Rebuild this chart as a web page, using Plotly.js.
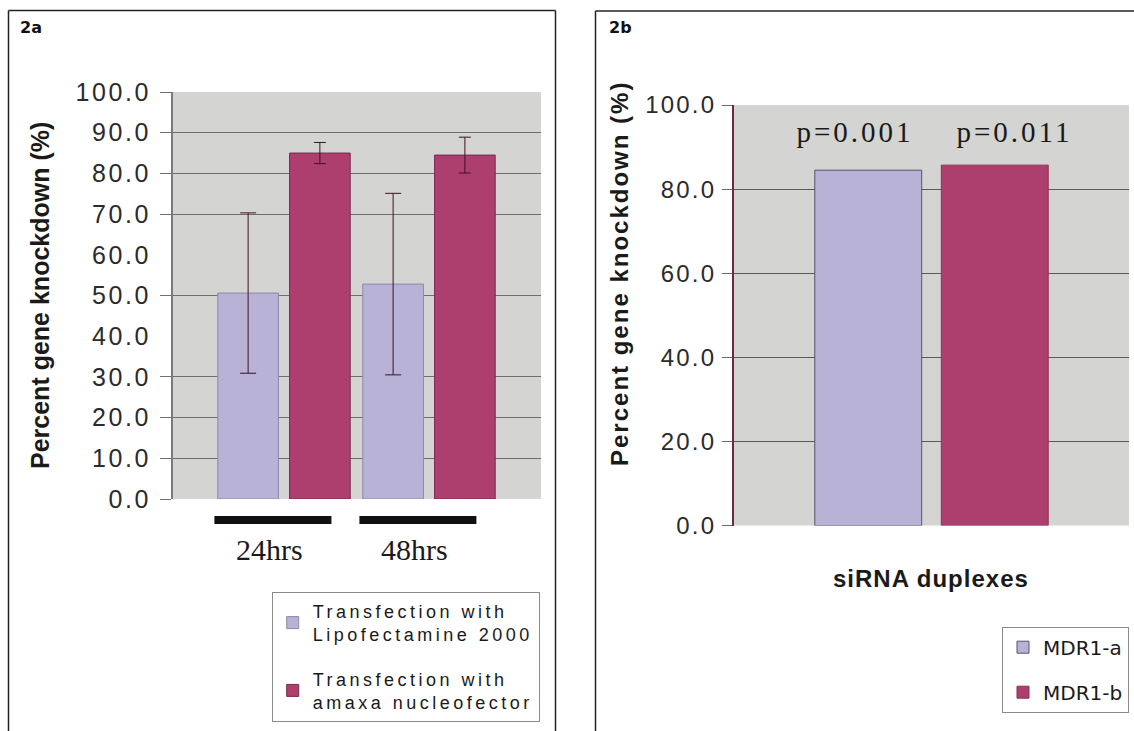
<!DOCTYPE html>
<html>
<head>
<meta charset="utf-8">
<script src="https://cdn.plot.ly/plotly-3.0.1.min.js"></script>
<style>
  html, body { margin: 0; padding: 0; background: #ffffff; }
  #chart { width: 1134px; height: 731px; }
  .y3tick text { letter-spacing: 2.6px; }
  .y2tick text { letter-spacing: 2.2px; }
  .legendtext[style*="Liberation"] { letter-spacing: 3.5px; }
  g.annotation[data-index="0"] text, g.annotation[data-index="1"] text { letter-spacing: 3px; }
  g.annotation[data-index="5"] text { letter-spacing: 2px; }
  g.annotation[data-index="6"] text { letter-spacing: 1px; }
</style>
</head>
<body>
<div id="chart"></div>
<script>
// ---------- data ----------
const timepoints = ['24hrs', '48hrs'];
const lipoKnockdown = [50.6, 52.8];
const lipoError = [19.7, 22.3];
const amaxaKnockdown = [85.0, 84.5];
const amaxaError = [2.6, 4.4];
const seriesNames2a = ['Transfection with<br>Lipofectamine 2000', 'Transfection with<br>amaxa nucleofector'];

const duplexCategory = ['siRNA duplexes'];
const mdr1aKnockdown = [84.5];
const mdr1bKnockdown = [85.7];
const seriesNames2b = ['MDR1-a', 'MDR1-b'];
const pValueLabels = ['p=0.001', 'p=0.011'];

const yTicks2a = [0, 10, 20, 30, 40, 50, 60, 70, 80, 90, 100];
const gridTicks2a = [0, 10, 20, 30, 50, 70, 80, 90, 100];
const yTicks2b = [0, 20, 40, 60, 80, 100];

const panelLabels = ['2a', '2b'];
const yTitle = 'Percent gene knockdown (%)';
const xTitle2b = 'siRNA duplexes';

// ---------- styles ----------
const W = 1134, H = 731;
const px = v => v / W;           // horizontal pixel -> paper
const py = v => 1 - v / H;       // vertical pixel -> paper
const lavender = '#b7b2d6';
const raspberry = '#ad3f6e';
const sans = 'Liberation Sans, Arial, Helvetica, sans-serif';
const serif = 'Liberation Serif, Times New Roman, serif';

const traces = [
  {
    type: 'bar', x: timepoints, y: lipoKnockdown, name: seriesNames2a[0],
    xaxis: 'x', yaxis: 'y', legend: 'legend', legendgroup: 'a1',
    marker: { color: lavender, line: { color: '#8c88aa', width: 1 } },
    error_y: { type: 'data', array: lipoError, visible: true, color: '#3d1228', thickness: 1, width: 8 }
  },
  {
    type: 'bar', x: timepoints, y: amaxaKnockdown, name: seriesNames2a[1],
    xaxis: 'x', yaxis: 'y', legend: 'legend', legendgroup: 'a2',
    marker: { color: raspberry, line: { color: '#7a2a4e', width: 1 } },
    error_y: { type: 'data', array: amaxaError, visible: true, color: '#3d1228', thickness: 1, width: 6 }
  },
  {
    type: 'bar', x: duplexCategory, y: mdr1aKnockdown, name: seriesNames2b[0],
    xaxis: 'x2', yaxis: 'y2', legend: 'legend2', legendgroup: 'b1',
    marker: { color: lavender, line: { color: '#55556a', width: 1 } }
  },
  {
    type: 'bar', x: duplexCategory, y: mdr1bKnockdown, name: seriesNames2b[1],
    xaxis: 'x2', yaxis: 'y2', legend: 'legend2', legendgroup: 'b2',
    marker: { color: raspberry, line: { color: '#8a3355', width: 1 } }
  },
  // empty helper trace so the tick-label axis of panel 2a is drawn
  {
    type: 'scatter', mode: 'markers', x: [], y: [], xaxis: 'x', yaxis: 'y3',
    showlegend: false, hoverinfo: 'skip'
  }
];

const annotations = [];
// p-values above the 2b bars (index 0,1)
const pOffsets = [-0.30, 0.325];
pValueLabels.forEach((t, i) => annotations.push({
  text: t, xref: 'x2', yref: 'y2', x: pOffsets[i], y: 93.6,
  xanchor: 'center', yanchor: 'middle', showarrow: false,
  font: { family: serif, size: 29, color: '#1a1a1a' }
}));
// time point labels under 2a (index 2,3)
timepoints.forEach((t, i) => annotations.push({
  text: t, xref: 'x', yref: 'paper', x: i - 0.097, y: py(549),
  xanchor: 'center', yanchor: 'middle', showarrow: false,
  font: { family: serif, size: 30, color: '#1a1a1a' }
}));
// y titles (index 4,5)
annotations.push({
  text: yTitle, xref: 'paper', yref: 'paper', x: px(40), y: py(296),
  textangle: -90, xanchor: 'center', yanchor: 'middle', showarrow: false,
  font: { family: sans, size: 25, color: '#1a1a1a', weight: 'bold' }
});
annotations.push({
  text: yTitle, xref: 'paper', yref: 'paper', x: px(619), y: py(274),
  textangle: -90, xanchor: 'center', yanchor: 'middle', showarrow: false,
  font: { family: sans, size: 24, color: '#1a1a1a', weight: 'bold' }
});
// x title 2b (index 6)
annotations.push({
  text: xTitle2b, xref: 'paper', yref: 'paper', x: px(931), y: py(578.7),
  xanchor: 'center', yanchor: 'middle', showarrow: false,
  font: { family: sans, size: 24, color: '#1a1a1a', weight: 'bold' }
});
// panel labels (index 7,8)
[[18, panelLabels[0]], [607, panelLabels[1]]].forEach(([xp, t]) => annotations.push({
  text: t, xref: 'paper', yref: 'paper', x: px(xp), y: py(27.8),
  xanchor: 'left', yanchor: 'middle', showarrow: false,
  font: { family: 'DejaVu Sans, Verdana, sans-serif', size: 16, color: '#111', weight: 'bold' }
}));

const shapes = [];
// thick black bars under the 2a categories
timepoints.forEach((t, i) => shapes.push({
  type: 'line', xref: 'x', yref: 'paper', x0: i - 0.48, x1: i + 0.327,
  y0: py(520), y1: py(520), line: { color: '#111111', width: 8 }
}));
// panel frames
const frame = { color: '#222222', width: 1.5 };
shapes.push({ type: 'line', xref: 'paper', yref: 'paper', x0: px(8.5), x1: px(8.5), y0: -0.05, y1: py(10.5), line: frame });
shapes.push({ type: 'line', xref: 'paper', yref: 'paper', x0: px(8.5), x1: px(555.5), y0: py(10.5), y1: py(10.5), line: frame });
shapes.push({ type: 'line', xref: 'paper', yref: 'paper', x0: px(555.5), x1: px(555.5), y0: -0.05, y1: py(10.5), line: frame });
shapes.push({ type: 'line', xref: 'paper', yref: 'paper', x0: px(595.5), x1: px(595.5), y0: -0.05, y1: py(11), line: frame });
shapes.push({ type: 'line', xref: 'paper', yref: 'paper', x0: px(595.5), x1: px(1134), y0: py(11), y1: py(11), line: frame });

const layout = {
  width: W, height: H,
  margin: { l: 0, r: 0, t: 0, b: 0, pad: 0 },
  paper_bgcolor: '#ffffff',
  plot_bgcolor: '#d4d4d2',
  barmode: 'group',
  bargap: 0.01,
  bargroupgap: 0.155,
  showlegend: true,
  xaxis: {
    domain: [px(173), px(541)], anchor: 'y', type: 'category',
    range: [-0.7655, 1.7724], showticklabels: false, ticks: '',
    showgrid: false, zeroline: false, showline: false
  },
  // gridlines + tick marks of panel 2a
  yaxis: {
    domain: [py(499), py(92)], anchor: 'x', range: [0, 100],
    tickmode: 'array', tickvals: gridTicks2a, showticklabels: false,
    ticks: 'outside', ticklen: 11, tickcolor: '#707070', tickwidth: 1,
    showgrid: true, gridcolor: '#6e6e6e', gridwidth: 1, zeroline: false,
    showline: true, linecolor: '#7a7a7a', linewidth: 2
  },
  // tick labels of panel 2a
  yaxis3: {
    overlaying: 'y', anchor: 'x', side: 'left', range: [0, 100],
    tickmode: 'array', tickvals: yTicks2a, tickformat: '.1f',
    ticks: '', showgrid: false, zeroline: false, showline: false,
    ticklabelstandoff: 21,
    tickfont: { family: sans, size: 25, color: '#2b2b2b' }
  },
  xaxis2: {
    domain: [px(734), px(1129)], anchor: 'y2', type: 'category',
    range: [-0.7727, 0.7727], showticklabels: false, ticks: '',
    showgrid: false, zeroline: false, showline: false
  },
  yaxis2: {
    domain: [py(525.5), py(105)], anchor: 'x2', range: [0, 100],
    tickmode: 'array', tickvals: yTicks2b, tickformat: '.1f',
    ticks: 'outside', ticklen: 10, tickcolor: '#6a6a6a', tickwidth: 1,
    showgrid: true, gridcolor: '#5a5a5a', gridwidth: 1, zeroline: false,
    showline: true, linecolor: '#6a2a40', linewidth: 2,
    ticklabelstandoff: 1,
    tickfont: { family: sans, size: 24, color: '#2b2b2b' }
  },
  legend: {
    x: px(271.7), y: py(591.7), xanchor: 'left', yanchor: 'top',
    bgcolor: '#ffffff', bordercolor: '#8a8a8a', borderwidth: 1,
    font: { family: sans, size: 18, color: '#1a1a1a' },
    tracegroupgap: 18, traceorder: 'grouped', itemclick: false
  },
  legend2: {
    x: px(1129), y: py(626.7), xanchor: 'right', yanchor: 'top',
    bgcolor: '#ffffff', bordercolor: '#8a8a8a', borderwidth: 1,
    font: { family: 'DejaVu Sans, Verdana, sans-serif', size: 20, color: '#1a1a1a' },
    tracegroupgap: 16, traceorder: 'grouped', itemclick: false
  },
  annotations: annotations,
  shapes: shapes
};

Plotly.newPlot('chart', traces, layout, { displayModeBar: false, staticPlot: true });
</script>
</body>
</html>
